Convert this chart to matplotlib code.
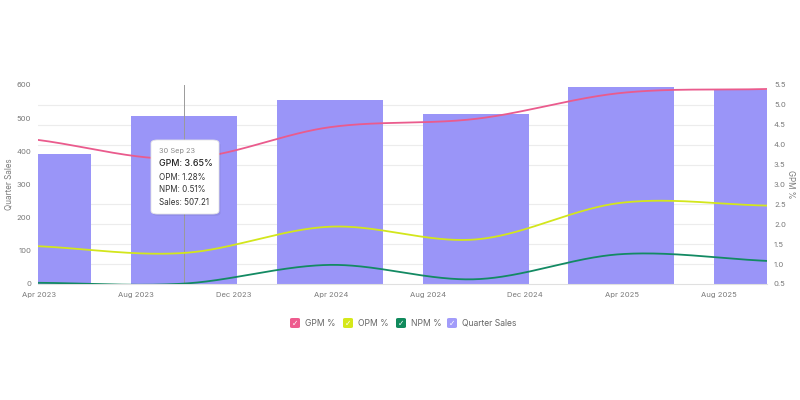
import numpy as np
import pandas as pd
import matplotlib
matplotlib.use("Agg")
import matplotlib.pyplot as plt
import matplotlib.dates as mdates
from matplotlib.patches import FancyBboxPatch

plt.rcParams["font.family"] = ["Inter", "DejaVu Sans"]

# data (half-yearly results)
dates = pd.to_datetime(["2023-03-31", "2023-09-30", "2024-03-31",
                        "2024-09-30", "2025-03-31", "2025-09-30"])
sales = [392, 507.21, 555, 513, 595, 586]
gpm = [4.12, 3.65, 4.44, 4.65, 5.30, 5.40]
opm = [1.45, 1.28, 1.94, 1.62, 2.54, 2.47]
npm = [0.53, 0.51, 0.98, 0.62, 1.25, 1.08]

tick_dates = pd.to_datetime(["2023-04-01", "2023-08-01", "2023-12-01", "2024-04-01",
                             "2024-08-01", "2024-12-01", "2025-04-01", "2025-08-01"])
tick_labels = ["Apr 2023", "Aug 2023", "Dec 2023", "Apr 2024",
               "Aug 2024", "Dec 2024", "Apr 2025", "Aug 2025"]

c_gpm = "#ea5b8d"
c_opm = "#d3e61c"
c_npm = "#138a63"
c_bar = "#9a95f8"
c_txt = "#7a7a7a"


def smooth(x, y, n=400):
    # Catmull-Rom style cubic, used only to draw the smooth lines
    x = np.asarray(x, float)
    y = np.asarray(y, float)
    h = np.diff(x)
    m = np.zeros_like(y)
    m[0] = (y[1] - y[0]) / h[0]
    m[-1] = (y[-1] - y[-2]) / h[-1]
    m[1:-1] = (y[2:] - y[:-2]) / (x[2:] - x[:-2])
    xs = np.linspace(x[0], x[-1], n)
    k = np.clip(np.searchsorted(x, xs) - 1, 0, len(x) - 2)
    t = (xs - x[k]) / h[k]
    h00 = 2 * t**3 - 3 * t**2 + 1
    h10 = t**3 - 2 * t**2 + t
    h01 = -2 * t**3 + 3 * t**2
    h11 = t**3 - t**2
    ys = h00 * y[k] + h10 * h[k] * m[k] + h01 * y[k + 1] + h11 * h[k] * m[k + 1]
    return xs, ys


fig = plt.figure(figsize=(8, 4), dpi=100)
W, H = 800, 400
ax = fig.add_axes([38 / W, 1 - 284 / H, (767 - 38) / W, (284 - 85) / H])
ax2 = ax.twinx()

xnum = mdates.date2num(dates)
ax.bar(xnum, sales, width=132, color=c_bar, zorder=2)
ax.set_xlim(xnum[0], xnum[-1])
ax.set_ylim(0, 600)
ax.set_yticks(np.arange(0, 601, 100))
ax.set_yticks(np.arange(0, 601, 60), minor=True)
ax.grid(which="minor", axis="y", color="#ececec", linewidth=0.8)
ax.set_axisbelow(True)
ax.tick_params(which="both", length=0)
ax.tick_params(axis="y", labelsize=5.5, labelcolor=c_txt, pad=5)
ax.set_xticks(mdates.date2num(tick_dates))
ax.set_xticklabels(tick_labels)
ax.tick_params(axis="x", labelsize=5.5, labelcolor=c_txt, pad=6)
ax.set_ylabel("Quarter Sales", fontsize=5.8, color=c_txt)
ax.yaxis.set_label_coords((14 - 38) / 729, 0.5)

ax.axvline(xnum[1], color="#9a9a9a", linewidth=0.7, zorder=3)

for vals, col in [(gpm, c_gpm), (opm, c_opm), (npm, c_npm)]:
    xs, ys = smooth(xnum, vals)
    ax2.plot(xs, ys, color=col, linewidth=1.3, solid_capstyle="round")
ax2.set_ylim(0.5, 5.5)
ax2.set_yticks(np.arange(0.5, 5.51, 0.5))
ax2.set_yticklabels([f"{v:.1f}" for v in np.arange(0.5, 5.51, 0.5)])
ax2.tick_params(length=0, labelsize=5.5, labelcolor=c_txt, pad=5)
ax2.set_ylabel("GPM %", fontsize=5.8, color=c_txt, rotation=-90, va="center")
ax2.yaxis.set_label_coords((791 - 38) / 729, 0.5)

for a in (ax, ax2):
    for s in a.spines.values():
        s.set_visible(False)
ax.spines["bottom"].set_visible(True)
ax.spines["bottom"].set_color("#e0e0e0")
ax.spines["bottom"].set_linewidth(0.8)

# tooltip
tx, ty, tw, th = 151, 140, 68, 74
fig.patches.append(FancyBboxPatch((tx / W + 0.002, 1 - (ty + th + 2) / H), tw / W, th / H,
                                  boxstyle="round,pad=0,rounding_size=0.008",
                                  transform=fig.transFigure, facecolor="#000000",
                                  alpha=0.06, edgecolor="none", zorder=5))
fig.patches.append(FancyBboxPatch((tx / W, 1 - (ty + th) / H), tw / W, th / H,
                                  boxstyle="round,pad=0,rounding_size=0.008",
                                  transform=fig.transFigure, facecolor="white",
                                  edgecolor="#e3e3e3", linewidth=0.6, zorder=6))
fig.text(159 / W, 1 - 151 / H, "30 Sep 23", fontsize=5.3, color="#8a8a8a",
         va="center", zorder=7)
fig.text(159 / W, 1 - 164 / H, f"GPM: {gpm[1]:.2f}%", fontsize=6.4, color="#222222",
         fontweight="medium", va="center", zorder=7)
fig.text(159 / W, 1 - 177 / H, f"OPM: {opm[1]:.2f}%", fontsize=5.8, color="#333333",
         va="center", zorder=7)
fig.text(159 / W, 1 - 190 / H, f"NPM: {npm[1]:.2f}%", fontsize=5.8, color="#333333",
         va="center", zorder=7)
fig.text(159 / W, 1 - 203 / H, f"Sales: {sales[1]:.2f}", fontsize=5.8, color="#333333",
         va="center", zorder=7)

# legend
legend_items = [("GPM %", "#ee5b8e", 290), ("OPM %", "#d5e81a", 343),
                ("NPM %", "#108a5c", 396), ("Quarter Sales", "#a29cfa", 447)]
ly = 323
for label, col, lx in legend_items:
    fig.patches.append(FancyBboxPatch((lx / W, 1 - (ly + 5) / H), 10 / W, 10 / H,
                                      boxstyle="round,pad=0,rounding_size=0.003",
                                      transform=fig.transFigure, facecolor=col,
                                      edgecolor="none"))
    fig.text((lx + 5) / W, 1 - ly / H, "\u2713", fontsize=5.5, color="white",
             ha="center", va="center", family="DejaVu Sans")
    fig.text((lx + 15) / W, 1 - ly / H, label, fontsize=6.2, color="#666666",
             va="center")

fig.savefig("out.png", dpi=100, facecolor="white")
